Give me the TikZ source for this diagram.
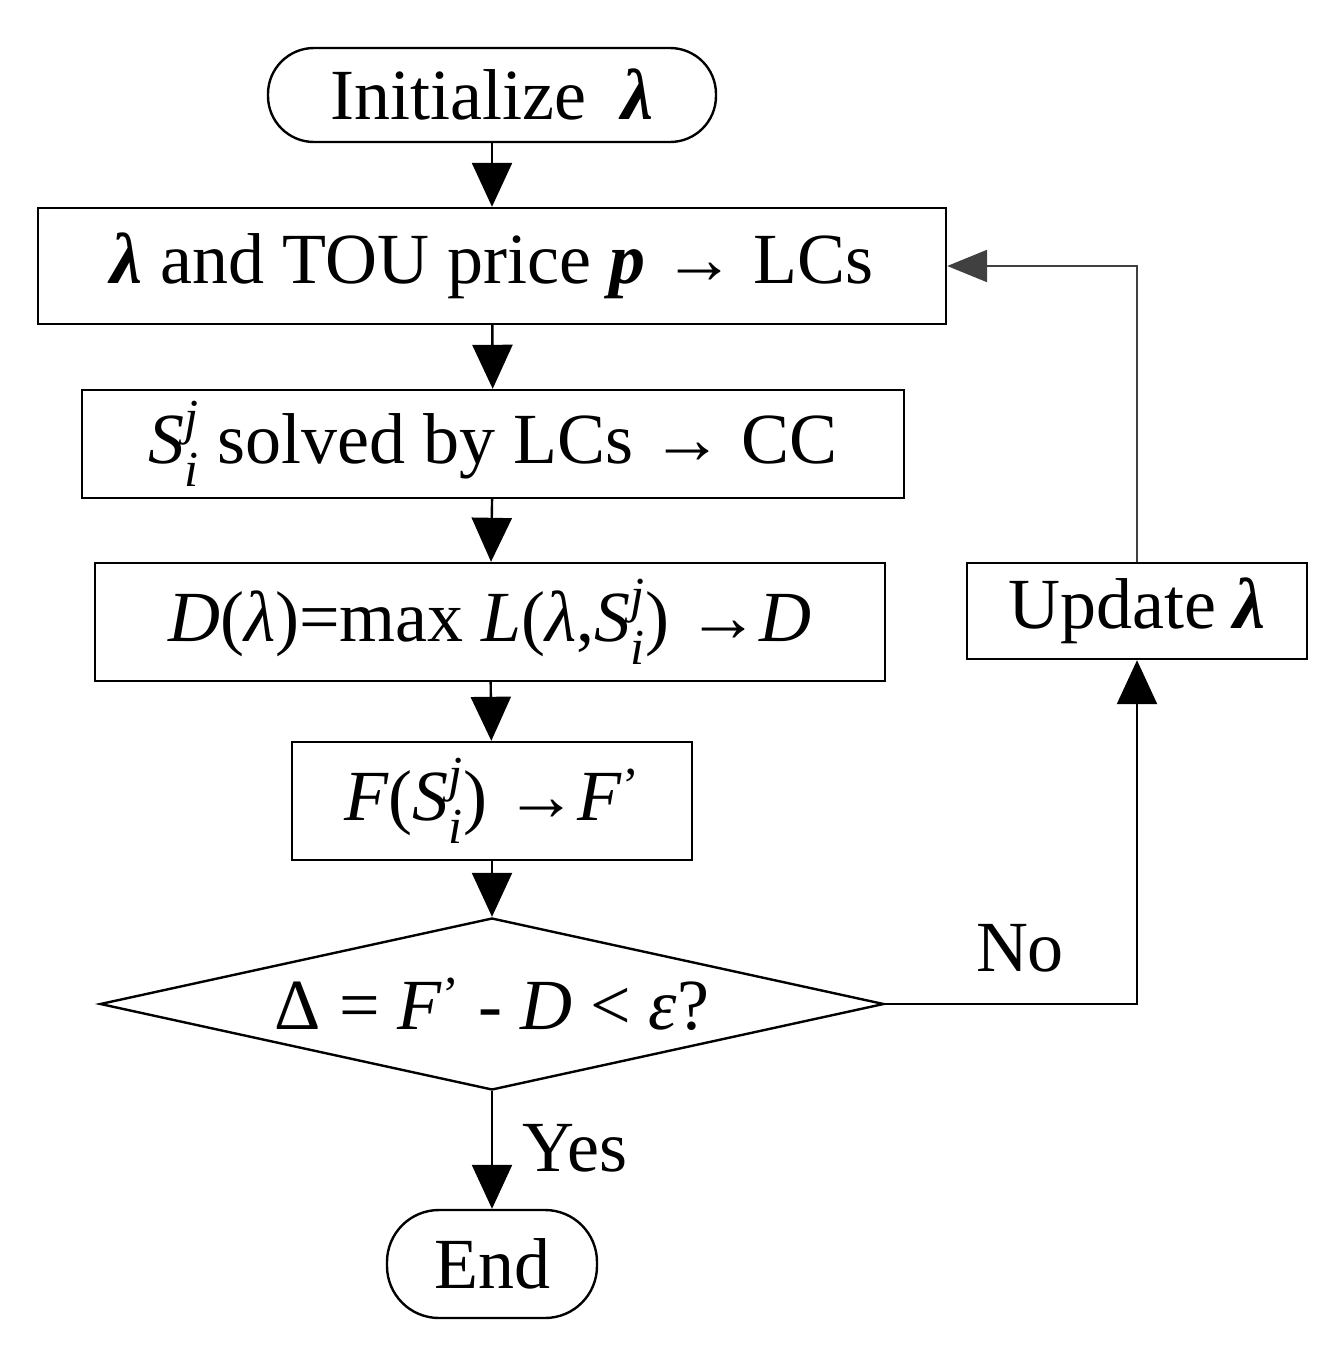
\documentclass[tikz,border=0pt]{standalone}
\usepackage{amsmath}
\usepackage{fontspec}
\setmainfont{Liberation Serif}
\usetikzlibrary{arrows.meta,shapes.geometric}
\newcommand{\bl}{\textbf{\textit{λ}}}
\newcommand{\Sij}{$\textit{S}^{\textit{j}}_{\textit{i}}$}
\begin{document}
\begin{tikzpicture}[x=0.5pt,y=-0.5pt,
  every node/.style={font=\fontsize{36}{40}\selectfont},
  box/.style={draw,line width=1.2pt,inner sep=0pt},
  arr/.style={line width=1.2pt,-{Triangle[length=22pt,width=20pt]}},
  garr/.style={line width=1.2pt,draw=black!75,-{Triangle[length=20pt,width=16pt]}}]
\useasboundingbox (0,0) rectangle (1342,1360);
\node[box,rounded corners=23pt,minimum width=224pt,minimum height=47pt] (init) at (492,95) {Initialize \ \bl};
\node[box,minimum width=454pt,minimum height=58pt] (b1) at (492,266) {\bl\ and TOU price \textbf{\textit{p}} → LCs};
\node[box,minimum width=411pt,minimum height=54pt] (b2) at (493,444) {\Sij\ solved by LCs → CC};
\node[box,minimum width=395pt,minimum height=59pt] (b3) at (490,622) {\textit{D}(\textit{λ})=max \textit{L}(\textit{λ},\Sij) →\textit{D}};
\node[box,minimum width=200pt,minimum height=59pt] (b4) at (492,801) {\textit{F}(\Sij) →\textit{F}$^{\text{'}}$};
\node[box,diamond,aspect=4.56,minimum width=392pt,minimum height=86pt,inner sep=0pt] (d) at (492,1004) {\raisebox{-0.6ex}{Δ = \textit{F}$^{\text{'}}$ - \textit{D} < \textit{ε}?}};
\node[box,rounded corners=26pt,minimum width=105pt,minimum height=54pt] (end) at (492,1264) {End};
\node[box,minimum width=170pt,minimum height=48pt] (up) at (1137,611) {Update \bl};
\draw[arr] (init) -- (b1);
\draw[arr] (b1) -- (b2);
\draw[arr] (b2) -- (b3);
\draw[arr] (b3) -- (b4);
\draw[arr] (b4) -- (d);
\draw[arr] (d) -- (end);
\draw[arr] (d.east) -| (up.south);
\draw[garr] (up.north) |- (b1.east);
\node (no) at (1020,948) {No};
\node (yes) at (575,1148) {Yes};
\end{tikzpicture}
\end{document}
